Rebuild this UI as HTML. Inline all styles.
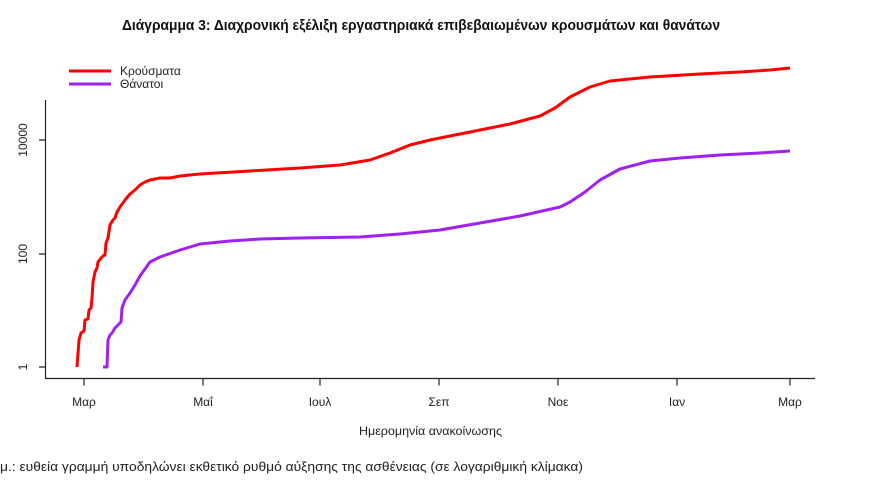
<!DOCTYPE html>
<html><head><meta charset="utf-8"><style>html,body{margin:0;padding:0;background:#fff}svg{display:block}</style></head>
<body>
<svg width="876" height="481" viewBox="0 0 876 481" xmlns="http://www.w3.org/2000/svg" font-family="'Liberation Sans Narrow','Liberation Sans',sans-serif">
<text x="122" y="30" font-size="14.5" font-weight="bold" textLength="598" lengthAdjust="spacingAndGlyphs" fill="#111">Διάγραμμα 3: Διαχρονική εξέλιξη εργαστηριακά επιβεβαιωμένων κρουσμάτων και θανάτων</text>
<line x1="69" y1="71" x2="111" y2="71" stroke="#f00" stroke-width="3"/>
<line x1="69" y1="84" x2="111" y2="84" stroke="#a020f0" stroke-width="3"/>
<text x="120" y="75" font-size="12" fill="#222">Κρούσματα</text>
<text x="120" y="88" font-size="12" fill="#222">Θάνατοι</text>
<g stroke="#222" stroke-width="1.2" fill="none">
<path d="M45.5 100 V378.5 H815"/>
<path d="M39 367H45.5M39 254H45.5M39 140H45.5"/>
<path d="M84 378.5v7M203 378.5v7M320 378.5v7M439 378.5v7M558 378.5v7M677 378.5v7M790 378.5v7"/>
</g>
<g font-size="12" fill="#222">
<text transform="translate(27 367) rotate(-90)" text-anchor="middle">1</text>
<text transform="translate(27 254) rotate(-90)" text-anchor="middle">100</text>
<text transform="translate(27 140) rotate(-90)" text-anchor="middle">10000</text>
</g>
<g font-size="12" fill="#222" text-anchor="middle">
<text x="84" y="406">Μαρ</text><text x="203" y="406">Μαΐ</text><text x="320" y="406">Ιουλ</text><text x="439" y="406">Σεπ</text><text x="558" y="406">Νοε</text><text x="677" y="406">Ιαν</text><text x="790" y="406">Μαρ</text>
<text x="359" y="435" text-anchor="start" textLength="143" lengthAdjust="spacingAndGlyphs">Ημερομηνία ανακοίνωσης</text>
</g>
<text x="0" y="471" font-size="13" fill="#222" textLength="583" lengthAdjust="spacingAndGlyphs">μ.: ευθεία γραμμή υποδηλώνει εκθετικό ρυθμό αύξησης της ασθένειας (σε λογαριθμική κλίμακα)</text>
<polyline fill="none" stroke="#f00" stroke-width="3" stroke-linejoin="round" points="77,367 79,340 81,333 84,331 85,320 88,319 89,310 91,308 92,298 93,282 95,272 97,268 98,262 101,258 103,256 105,255 106,243 108,238 110,225 113,220 115,218 117,212 120,207 125,200 130,194 135,190 140,185 145,182 150,180 160,178 170,178 180,176 200,174 250,171 300,168 340,165 370,160 390,153 410,145 430,140 450,136 480,130 510,124 540,116 555,108 570,97 590,87 610,81 650,77 700,74 740,72 770,70 790,68"/>
<polyline fill="none" stroke="#a020f0" stroke-width="3" stroke-linejoin="round" points="103,367 107,367 108,340 110,335 112,333 115,328 118,325 121,322 122,308 125,300 130,293 135,285 140,276 145,269 150,262 160,257 180,250 200,244 230,241 260,239 300,238 360,237 400,234 440,230 480,223 520,216 560,207 570,202 585,192 600,180 620,169 650,161 680,158 720,155 760,153 790,151"/>
</svg>
</body></html>
